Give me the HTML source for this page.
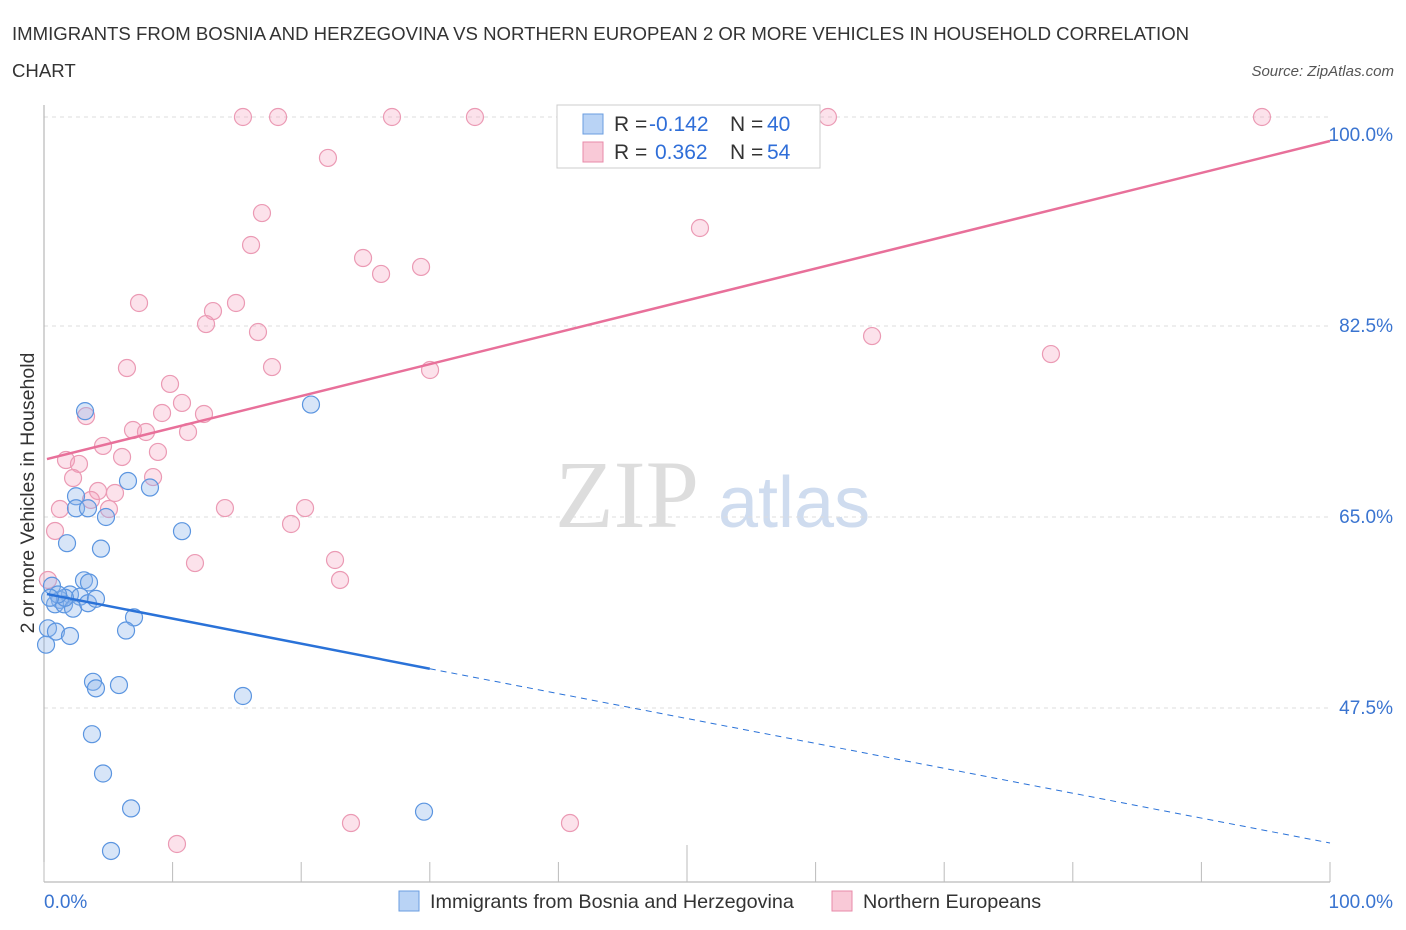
<!DOCTYPE html>
<html><head><meta charset="utf-8"><style>
body{margin:0;background:#fff;font-family:"Liberation Sans",sans-serif}
svg{display:block}
</style></head><body>
<svg id="c" width="1406" height="930">
<text x="12" y="40" font-size="18.6" fill="#333">IMMIGRANTS FROM BOSNIA AND HERZEGOVINA VS NORTHERN EUROPEAN 2 OR MORE VEHICLES IN HOUSEHOLD CORRELATION</text>
<text x="12" y="77" font-size="18.6" fill="#333">CHART</text>
<text x="1394" y="76" font-size="15" fill="#555" font-style="italic" text-anchor="end">Source: ZipAtlas.com</text>
<text x="34" y="493" font-size="19.5" fill="#333" text-anchor="middle" transform="rotate(-90 34 493)">2 or more Vehicles in Household</text>
<text x="555" y="527" font-size="96" fill="#ddd" font-family="Liberation Serif,serif">ZIP</text>
<text x="718" y="527" font-size="72" fill="#cfdcef">atlas</text>
<g id="grid"></g>
<g id="pts"></g>
<g id="lines"></g>
<rect x="557" y="105" width="263" height="63" fill="#fff" stroke="#ccc"/>
<rect x="583" y="114" width="20" height="20" fill="#b9d3f5" stroke="#6a9de0"/>
<rect x="583" y="142" width="20" height="20" fill="#f9c9d7" stroke="#e88aa8"/>
<text y="131" font-size="21"><tspan x="614" fill="#333">R = </tspan><tspan x="649" fill="#2f6ed8">-0.142</tspan><tspan x="730" fill="#333">N = </tspan><tspan x="767" fill="#2f6ed8">40</tspan></text>
<text y="159" font-size="21"><tspan x="614" fill="#333">R = </tspan><tspan x="655" fill="#2f6ed8">0.362</tspan><tspan x="730" fill="#333">N = </tspan><tspan x="767" fill="#2f6ed8">54</tspan></text>
<rect x="399" y="891" width="20" height="20" fill="#b9d3f5" stroke="#6a9de0"/>
<text x="430" y="908" font-size="19.8" fill="#333">Immigrants from Bosnia and Herzegovina</text>
<rect x="832" y="891" width="20" height="20" fill="#f9c9d7" stroke="#e88aa8"/>
<text x="863" y="908" font-size="19.8" fill="#333">Northern Europeans</text>
</svg>
<script>
const blueX=[3.19,2.49,2.49,3.42,4.82,6.53,8.24,10.73,20.76,1.79,4.43,0.62,3.11,3.5,2.02,2.8,1.24,0.86,1.56,2.26,3.42,4.04,7.0,0.31,0.93,2.02,6.38,0.16,3.81,4.04,5.83,15.47,3.73,4.59,6.77,29.55,5.21,1.63,1.09,0.47];
const blueY=[74.7,66.9,65.8,65.8,65.0,68.3,67.7,63.7,75.3,62.6,62.1,58.7,59.2,59.0,57.9,57.7,57.4,57.0,57.0,56.6,57.1,57.5,55.8,54.8,54.5,54.1,54.6,53.3,49.9,49.3,49.6,48.6,45.1,41.5,38.3,38.0,34.4,57.6,57.9,57.6];
const pinkX=[15.47,18.2,27.06,33.51,60.96,94.71,22.08,16.95,16.1,51.01,24.81,26.21,29.32,7.39,14.93,13.14,12.6,16.64,64.39,78.3,6.45,17.73,30.02,9.8,10.73,9.18,12.44,3.27,6.92,7.93,11.2,4.59,8.86,1.71,2.72,6.07,2.26,8.48,4.2,5.52,3.65,1.24,5.05,14.07,20.3,0.86,19.21,11.74,22.63,23.02,0.31,23.87,40.9,10.34];
const pinkY=[101.65,101.65,101.65,101.65,101.65,101.65,97.9,92.85,89.92,91.48,88.73,87.27,87.91,84.61,84.61,83.87,82.68,81.95,81.58,79.93,78.65,78.74,78.47,77.19,75.45,74.53,74.44,74.25,72.97,72.79,72.79,71.51,70.96,70.22,69.86,70.5,68.57,68.66,67.38,67.2,66.56,65.73,65.73,65.82,65.82,63.72,64.36,60.78,61.06,59.23,59.23,36.96,36.96,35.04];
const yTicks=[100,82.5,65,47.5];
const yTickLabels=["100.0%","82.5%","65.0%","47.5%"];
const pinkTrend=[70.31,99.45];
const blueTrend=[57.94,35.13];
const blueSolidEnd=30;
const NS="http://www.w3.org/2000/svg";
const X=v=>44+v*12.86;
const Y=v=>517-(v-65)*10.914;
function mk(t,a,p){const e=document.createElementNS(NS,t);for(const k in a)e.setAttribute(k,a[k]);p.appendChild(e);return e;}
const g=document.getElementById('grid');
mk('line',{x1:44,y1:117,x2:1330,y2:117,stroke:'#ddd','stroke-dasharray':'4,4'},g);
yTicks.forEach((t,i)=>{
 if(t<100){
 const l=mk('line',{x1:44,y1:Y(t),x2:1330,y2:Y(t),stroke:'#ddd','stroke-dasharray':'4,4'},g);
 
 
 }
 const tx=mk('text',{x:1393,y:Y(t)+6,'font-size':19,fill:'#3a74d0','text-anchor':'end'},g);
 tx.textContent=yTickLabels[i];
 
 
});
mk('line',{x1:44,y1:105,x2:44,y2:882,stroke:'#aaa'},g);
mk('line',{x1:44,y1:882,x2:1330,y2:882,stroke:'#aaa'},g);
for(let i=0;i<=10;i++){const x=X(i*10);mk('line',{x1:x,y1:i==5?845:862,x2:x,y2:882,stroke:'#bbb'},g);}
const xl=mk('text',{x:44,y:908,'font-size':19,fill:'#3a74d0'},g);xl.textContent='0.0%';


const xr=mk('text',{x:1393,y:908,'font-size':19,fill:'#3a74d0','text-anchor':'end'},g);xr.textContent='100.0%';


const p=document.getElementById('pts');
pinkX.forEach((x,i)=>{const c=mk('circle',{cx:X(x),cy:Y(pinkY[i]),r:8.5,fill:'rgba(245,160,188,0.3)',stroke:'#eb9ab4','stroke-width':1.2},p);
 
 });
blueX.forEach((x,i)=>{const c=mk('circle',{cx:X(x),cy:Y(blueY[i]),r:8.5,fill:'rgba(140,180,235,0.35)',stroke:'#5b95e0','stroke-width':1.2},p);
 
 });
const L=document.getElementById('lines');
const pl=mk('line',{x1:X(0.23),y1:Y(pinkTrend[0]),x2:X(100),y2:Y(pinkTrend[1]),stroke:'#e8709a','stroke-width':2.5},L);


const bs=(blueTrend[1]-blueTrend[0])/100;
const b1=mk('line',{x1:X(0.23),y1:Y(blueTrend[0]),x2:X(blueSolidEnd),y2:Y(blueTrend[0]+bs*blueSolidEnd),stroke:'#2a72d8','stroke-width':2.5},L);


const b2=mk('line',{x1:X(blueSolidEnd),y1:Y(blueTrend[0]+bs*blueSolidEnd),x2:X(100),y2:Y(blueTrend[1]),stroke:'#2a72d8','stroke-width':1,'stroke-dasharray':'6,5'},L);


</script>
</body></html>
